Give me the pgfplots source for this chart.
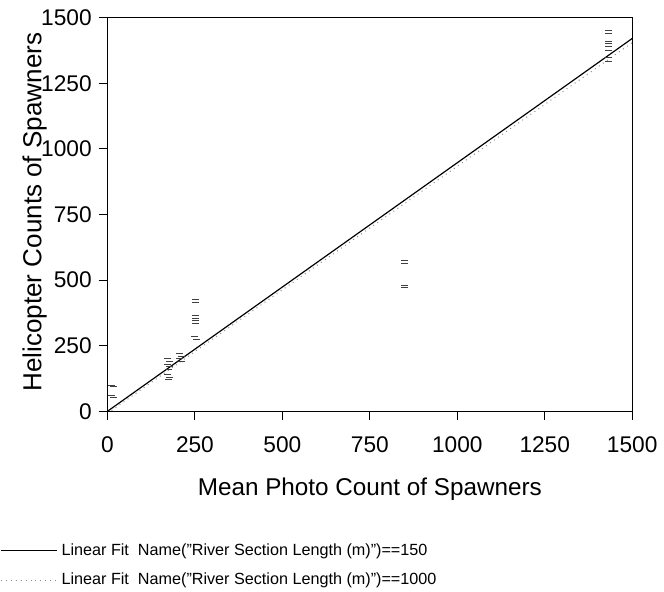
\documentclass[border=0pt]{standalone}
\usepackage{pgfplots}
\pgfplotsset{compat=1.18}
\usepackage{fontspec}
\setmainfont{Liberation Sans}
\newcommand{\dq}{\symbol{34}}

\begin{document}
\begin{tikzpicture}
\begin{axis}[
  name=main,
  scale only axis,
  width=266pt, height=199.5pt,
  xmin=0, xmax=1500, ymin=0, ymax=1500,
  xtick={0,250,...,1500}, ytick={0,250,...,1500},
  tick align=outside, xtick pos=bottom, ytick pos=left,
  major tick length=4.5pt,
  tick style={black, line width=0.5pt},
  axis line style={line width=0.6pt},
  tick label style={font=\fontsize{11.5}{13}\selectfont},
  xticklabel style={yshift=-5pt},
  /pgf/number format/assume math mode=true,
  /pgf/number format/1000 sep={},
  xlabel={Mean Photo Count of Spawners},
  ylabel={Helicopter Counts of Spawners},
  xlabel style={font=\fontsize{12.3}{14}\selectfont, at={(axis description cs:0.5,-0.198)}, anchor=center},
  ylabel style={font=\fontsize{13.2}{15}\selectfont, at={(axis description cs:-0.139,0.506)}, anchor=center},
  legend style={at={(axis description cs:-0.205,-0.325)}, anchor=north west,
    draw=none, fill=none, inner sep=0pt, row sep=3.5pt,
    font=\fontsize{8.2}{10}\selectfont, cells={anchor=west},
    /tikz/every even column/.append style={column sep=0pt}},
  legend image code/.code={\draw[#1] (0cm,0cm) -- (1.0cm,0cm);},
]
  % observed points
  \addplot[only marks, mark=-, mark size=1.75pt, black!75, line width=0.5pt, forget plot]
    coordinates {
      (12,100)(16,94)(12,62)(16,52)
      (172,200)(178,190)(172,180)(178,170)(175,160)(172,140)(178,130)(175,120)
      (205,220)(212,210)(205,200)(212,190)
      (252,425)(252,415)(252,365)(252,355)(252,345)(252,335)(248,285)(255,275)
      (849,575)(849,565)(849,480)(849,472)
      (1432,1450)(1432,1440)(1432,1410)(1432,1400)(1432,1390)(1432,1375)(1432,1350)(1432,1335)
    };
  % linear fits
  \addplot[black, line width=0.6pt] coordinates {(0,0)(1500,1421)};
  \addlegendentry{Linear Fit\ \ Name(\dq River Section Length (m)\dq)==150}
  \addplot[black!45, dotted, line width=0.5pt] coordinates {(0,-8)(1500,1405)};
  \addlegendentry{Linear Fit\ \ Name(\dq River Section Length (m)\dq)==1000}
\end{axis}
\path (main.south west) ++(-54.5pt,-88.5pt) rectangle ++(332pt,297pt);
\end{tikzpicture}
\end{document}
